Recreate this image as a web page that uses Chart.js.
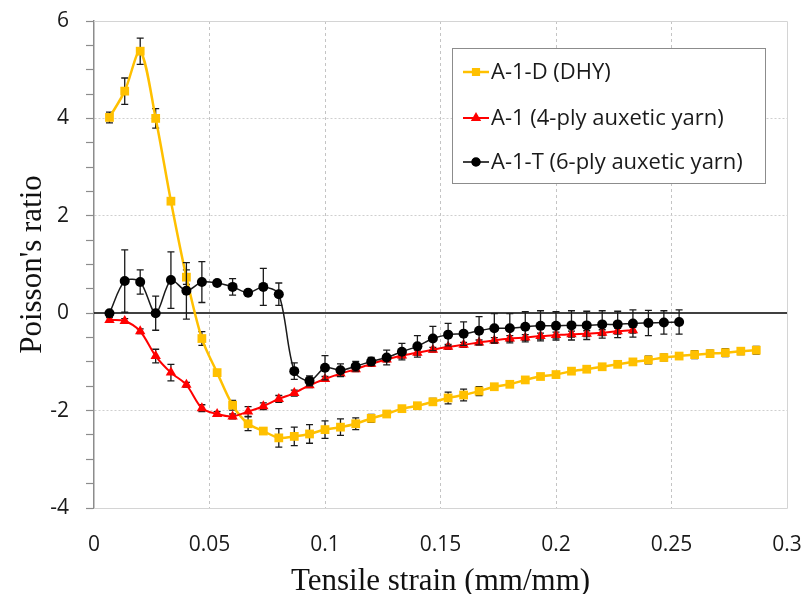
<!DOCTYPE html>
<html>
<head>
<meta charset="utf-8">
<title>Poisson's ratio vs tensile strain</title>
<script src="https://cdn.jsdelivr.net/npm/chart.js@4.4.0/dist/chart.umd.min.js"></script>
<style>
  html, body { margin: 0; padding: 0; background: #fff; }
  #wrap { width: 808px; height: 594px; }
</style>
</head>
<body>
<div id="wrap"><canvas id="poisson-chart" width="808" height="594"></canvas></div>
<script>
// Tensile strain (mm/mm) at each measurement step
const strain = [
    0.0067, 0.0133, 0.0200, 0.0267, 0.0333, 0.0400, 0.0467, 0.0533, 0.0600, 0.0667,
    0.0733, 0.0800, 0.0867, 0.0933, 0.1000, 0.1067, 0.1133, 0.1200, 0.1267, 0.1333,
    0.1400, 0.1467, 0.1533, 0.1600, 0.1667, 0.1733, 0.1800, 0.1867, 0.1933, 0.2000,
    0.2067, 0.2133, 0.2200, 0.2267, 0.2333, 0.2400, 0.2467, 0.2533, 0.2600, 0.2667,
    0.2733, 0.2800, 0.2867
];

// A-1-D (DHY)
const dhyRatio = [
    4.02, 4.56, 5.38, 4.00, 2.30, 0.74, -0.52, -1.22, -1.89, -2.27,
    -2.42, -2.56, -2.53, -2.48, -2.39, -2.34, -2.27, -2.16, -2.07, -1.96,
    -1.90, -1.82, -1.74, -1.68, -1.60, -1.51, -1.46, -1.37, -1.30, -1.26,
    -1.19, -1.15, -1.10, -1.05, -1.00, -0.96, -0.91, -0.88, -0.85, -0.83,
    -0.81, -0.78, -0.76
];
const dhyErr = [
    0.11, 0.27, 0.27, 0.20, 0.04, 0.15, 0.14, 0.05, 0.10, 0.14,
    0.05, 0.19, 0.19, 0.19, 0.18, 0.17, 0.12, 0.08, 0.07, 0.06,
    0.06, 0.07, 0.12, 0.12, 0.09, 0.04, 0.04, 0.04, 0.04, 0.06,
    0.04, 0.04, 0.04, 0.04, 0.04, 0.08, 0.07, 0.07, 0.08, 0.07,
    0.08, 0.07, 0.08
];

// A-1 (4-ply auxetic yarn)
const ply4Ratio = [
    -0.14, -0.16, -0.37, -0.88, -1.22, -1.47, -1.95, -2.07, -2.12, -2.02,
    -1.91, -1.76, -1.64, -1.48, -1.35, -1.24, -1.15, -1.04, -0.95, -0.87,
    -0.81, -0.75, -0.69, -0.65, -0.60, -0.56, -0.52, -0.50, -0.47, -0.45,
    -0.43, -0.42, -0.40, -0.37, -0.35
];
const ply4Err = [
    0.05, 0.05, 0.05, 0.14, 0.17, 0.05, 0.07, 0.05, 0.05, 0.10,
    0.07, 0.07, 0.06, 0.05, 0.05, 0.05, 0.05, 0.05, 0.05, 0.05,
    0.05, 0.05, 0.05, 0.05, 0.05, 0.06, 0.06, 0.06, 0.06, 0.06,
    0.06, 0.06, 0.06, 0.06, 0.06
];

// A-1-T (6-ply auxetic yarn)
const ply6Ratio = [
    0.00, 0.66, 0.64, 0.00, 0.68, 0.46, 0.64, 0.62, 0.54, 0.42,
    0.54, 0.39, -1.19, -1.39, -1.12, -1.17, -1.09, -0.99, -0.91, -0.79,
    -0.68, -0.52, -0.44, -0.42, -0.36, -0.31, -0.31, -0.28, -0.26, -0.26,
    -0.25, -0.25, -0.23, -0.23, -0.21, -0.20, -0.19, -0.18
];
const ply6Err = [
    0.00, 0.64, 0.25, 0.35, 0.58, 0.58, 0.42, 0.05, 0.17, 0.05,
    0.38, 0.23, 0.17, 0.10, 0.25, 0.13, 0.10, 0.08, 0.15, 0.17,
    0.22, 0.25, 0.23, 0.24, 0.29, 0.30, 0.30, 0.31, 0.31, 0.29,
    0.30, 0.29, 0.28, 0.27, 0.28, 0.26, 0.24, 0.25
];

const seriesLabels = ['A-1-D (DHY)', 'A-1 (4-ply auxetic yarn)', 'A-1-T (6-ply auxetic yarn)'];
const seriesColors = ['#FFC000', '#FF0000', '#000000'];

const xTitle = 'Tensile strain (mm/mm)';
const yTitle = "Poisson's ratio";

const xTicks = { min: 0, max: 0.3, step: 0.05 };
const yTicks = { min: -4, max: 6, step: 0.5, labelEvery: 2 };

function toPoints(values) {
    return values.map((v, i) => ({ x: strain[i], y: v }));
}

// error bars, drawn just before each dataset so markers sit on top
const errorBarPlugin = {
    id: 'errorBars',
    beforeDatasetDraw(chart, args) {
        const ds = chart.data.datasets[args.index];
        if (!ds.errorBars) return;
        const yScale = chart.scales.y;
        const ctx = chart.ctx;
        ctx.save();
        ctx.strokeStyle = '#1a1a1a';
        ctx.lineWidth = 1.3;
        args.meta.data.forEach((pt, i) => {
            const err = ds.errorBars[i];
            if (!err) return;
            const v = ds.data[i].y;
            const top = yScale.getPixelForValue(v + err);
            const bot = yScale.getPixelForValue(v - err);
            ctx.beginPath();
            ctx.moveTo(pt.x, top);
            ctx.lineTo(pt.x, bot);
            ctx.moveTo(pt.x - 3.5, top);
            ctx.lineTo(pt.x + 3.5, top);
            ctx.moveTo(pt.x - 3.5, bot);
            ctx.lineTo(pt.x + 3.5, bot);
            ctx.stroke();
        });
        ctx.restore();
    }
};

// plot area frame and the black zero line
const framePlugin = {
    id: 'frame',
    beforeDatasetsDraw(chart) {
        const { ctx, chartArea: a } = chart;
        ctx.save();
        ctx.strokeStyle = '#d4d4d4';
        ctx.lineWidth = 1;
        ctx.beginPath();
        ctx.moveTo(a.left, a.top + 0.5);
        ctx.lineTo(a.right + 0.5, a.top + 0.5);
        ctx.lineTo(a.right + 0.5, a.bottom + 0.5);
        ctx.lineTo(a.left, a.bottom + 0.5);
        ctx.stroke();
        const y0 = Math.round(chart.scales.y.getPixelForValue(0));
        ctx.strokeStyle = '#000';
        ctx.lineWidth = 1.5;
        ctx.beginPath();
        ctx.moveTo(a.left, y0);
        ctx.lineTo(a.right, y0);
        ctx.stroke();
        ctx.restore();
    }
};

// axis titles and the boxed legend
const labelsPlugin = {
    id: 'labels',
    afterDraw(chart) {
        const { ctx, chartArea: a } = chart;
        ctx.save();
        ctx.fillStyle = '#111';
        ctx.font = "31px 'Liberation Serif', 'Times New Roman', serif";
        ctx.textAlign = 'center';
        ctx.textBaseline = 'alphabetic';
        ctx.fillText(xTitle, (a.left + a.right) / 2, 590);
        ctx.translate(41, (a.top + a.bottom) / 2);
        ctx.rotate(-Math.PI / 2);
        ctx.fillText(yTitle, 0, 0);
        ctx.restore();

        // legend box
        const box = { x: 452, y: 48, w: 313, h: 135 };
        ctx.save();
        ctx.fillStyle = '#fff';
        ctx.fillRect(box.x, box.y, box.w, box.h);
        ctx.strokeStyle = '#8c8c8c';
        ctx.lineWidth = 1;
        ctx.strokeRect(box.x + 0.5, box.y + 0.5, box.w, box.h);
        const rows = [72, 118, 162];
        const styles = ['rect', 'triangle', 'circle'];
        const widths = [2.5, 2, 1.5];
        ctx.font = "22px 'Open Sans', sans-serif";
        ctx.textAlign = 'left';
        ctx.textBaseline = 'middle';
        rows.forEach((ry, i) => {
            ctx.strokeStyle = seriesColors[i];
            ctx.lineWidth = widths[i];
            ctx.beginPath();
            ctx.moveTo(463, ry);
            ctx.lineTo(489, ry);
            ctx.stroke();
            Chart.helpers.drawPoint(ctx, {
                pointStyle: styles[i],
                radius: 4,
                rotation: 0,
                borderWidth: 1
            }, 476, ry);
            ctx.fillStyle = seriesColors[i];
            ctx.strokeStyle = seriesColors[i];
            ctx.fill();
            ctx.fillStyle = '#1a1a1a';
            ctx.fillText(seriesLabels[i], 491, ry + 1);
        });
        ctx.restore();
    }
};

function isMajorY(v) {
    return Math.abs(v % yTicks.labelEvery) < 1e-9;
}

const ctx = document.getElementById('poisson-chart');
Chart.defaults.font.family = "'Open Sans', sans-serif";
Chart.defaults.color = '#1a1a1a';

new Chart(ctx, {
    type: 'line',
    data: {
        datasets: [
            {
                label: seriesLabels[0],
                data: toPoints(dhyRatio),
                errorBars: dhyErr,
                borderColor: seriesColors[0],
                backgroundColor: seriesColors[0],
                borderWidth: 2.5,
                pointStyle: 'rect',
                pointRadius: 6.2,
                pointBorderWidth: 0,
                tension: 0.3,
                order: 3
            },
            {
                label: seriesLabels[1],
                data: toPoints(ply4Ratio),
                errorBars: ply4Err,
                borderColor: seriesColors[1],
                backgroundColor: seriesColors[1],
                borderWidth: 2,
                pointStyle: 'triangle',
                pointRadius: 6,
                pointBorderWidth: 0,
                tension: 0.3,
                order: 2
            },
            {
                label: seriesLabels[2],
                data: toPoints(ply6Ratio),
                errorBars: ply6Err,
                borderColor: '#1a1a1a',
                backgroundColor: seriesColors[2],
                borderWidth: 1.5,
                pointStyle: 'circle',
                pointRadius: 5,
                pointBorderWidth: 0,
                tension: 0.3,
                order: 1
            }
        ]
    },
    options: {
        responsive: false,
        animation: false,
        layout: { padding: { top: 21, right: 21, left: 0, bottom: 0 } },
        plugins: {
            legend: { display: false },
            tooltip: { enabled: false }
        },
        scales: {
            x: {
                type: 'linear',
                min: xTicks.min,
                max: xTicks.max,
                afterFit(scale) {
                    scale.height = 86;
                    scale.paddingLeft = 0;
                    scale.paddingRight = 0;
                },
                ticks: {
                    stepSize: xTicks.step,
                    autoSkip: false,
                    maxRotation: 0,
                    padding: 24,
                    color: '#1a1a1a',
                    font: { size: 21 },
                    callback: v => String(Math.round(v * 100) / 100)
                },
                grid: {
                    drawTicks: false,
                    lineWidth: 1,
                    color: c => {
                        const v = c.tick ? c.tick.value : 0;
                        return (v <= 1e-9 || v >= xTicks.max - 1e-9) ? 'rgba(0,0,0,0)' : '#c4c4c4';
                    }
                },
                border: { display: false, dash: [3, 3] }
            },
            y: {
                type: 'linear',
                min: yTicks.min,
                max: yTicks.max,
                afterFit(scale) {
                    scale.width = 94;
                    scale.paddingTop = 0;
                    scale.paddingBottom = 0;
                },
                ticks: {
                    stepSize: yTicks.step,
                    autoSkip: false,
                    padding: 17,
                    color: '#1a1a1a',
                    font: { size: 21 },
                    callback: v => isMajorY(v) ? String(v) : ''
                },
                grid: {
                    drawTicks: true,
                    tickLength: 8,
                    tickColor: '#8c8c8c',
                    tickWidth: 1.2,
                    lineWidth: 1,
                    color: c => {
                        const v = c.tick ? c.tick.value : 0;
                        if (!isMajorY(v) || v === 0 || v === yTicks.min || v === yTicks.max) return 'rgba(0,0,0,0)';
                        return '#cfcfcf';
                    }
                },
                border: { display: true, color: '#8c8c8c', width: 1.5, dash: [2, 2] }
            }
        }
    },
    plugins: [framePlugin, errorBarPlugin, labelsPlugin]
});
</script>
</body>
</html>
